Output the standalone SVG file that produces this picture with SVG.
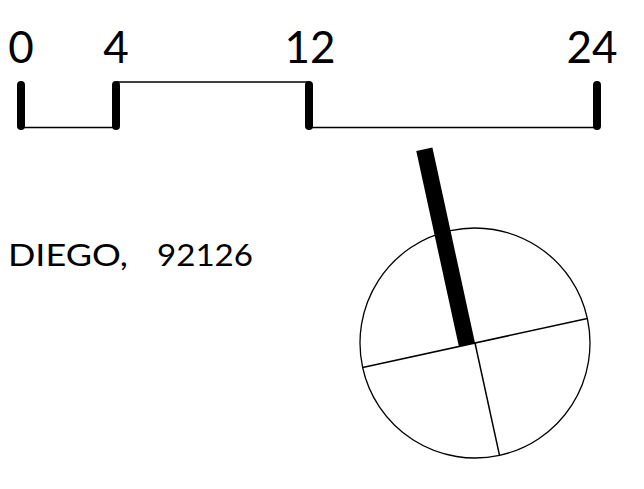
<svg xmlns="http://www.w3.org/2000/svg" width="644" height="489" viewBox="0 0 644 489">
<style>
.lbl{font-family:Lato,"Noto Sans","Liberation Sans",sans-serif;font-weight:400;fill:#000}
.tick{stroke:#000;stroke-width:8;stroke-linecap:round;fill:none}
.thin{stroke:#000;stroke-width:1.5;fill:none}
.c{stroke:#000;stroke-width:1.3;fill:#fff}
</style>
<rect width="644" height="489" fill="#fff"/>
<g id="scale">
<line class="thin" x1="21" y1="127.5" x2="116" y2="127.5"/>
<line class="thin" x1="116" y1="82" x2="309" y2="82"/>
<line class="thin" x1="309" y1="127.5" x2="597" y2="127.5"/>
<line class="tick" x1="21" y1="85" x2="21" y2="126"/>
<line class="tick" x1="116" y1="85" x2="116" y2="126"/>
<line class="tick" x1="309" y1="85" x2="309" y2="126"/>
<line class="tick" x1="597" y1="85" x2="597" y2="126"/>
<text class="lbl" x="21" y="63" font-size="44" text-anchor="middle">0</text>
<text class="lbl" x="116" y="63" font-size="44" text-anchor="middle">4</text>
<text class="lbl" x="310" y="63" font-size="44" text-anchor="middle">12</text>
<text class="lbl" x="592" y="63" font-size="44" text-anchor="middle">24</text>
</g>
<g id="address">
<text class="lbl" x="8" y="266" font-size="31"><tspan textLength="120" lengthAdjust="spacingAndGlyphs">DIEGO,</tspan><tspan x="157" textLength="96" lengthAdjust="spacingAndGlyphs">92126</tspan></text>
</g>
<g id="north" transform="translate(475,343) rotate(-12.3)">
<circle class="c" cx="0" cy="0" r="115"/>
<line class="thin" x1="-115" y1="0" x2="115" y2="0" stroke-width="1.3"/>
<line class="thin" x1="0" y1="0" x2="0" y2="115" stroke-width="1.3"/>
<rect x="-16.5" y="-200" width="16.5" height="200" fill="#000"/>
</g>
</svg>
